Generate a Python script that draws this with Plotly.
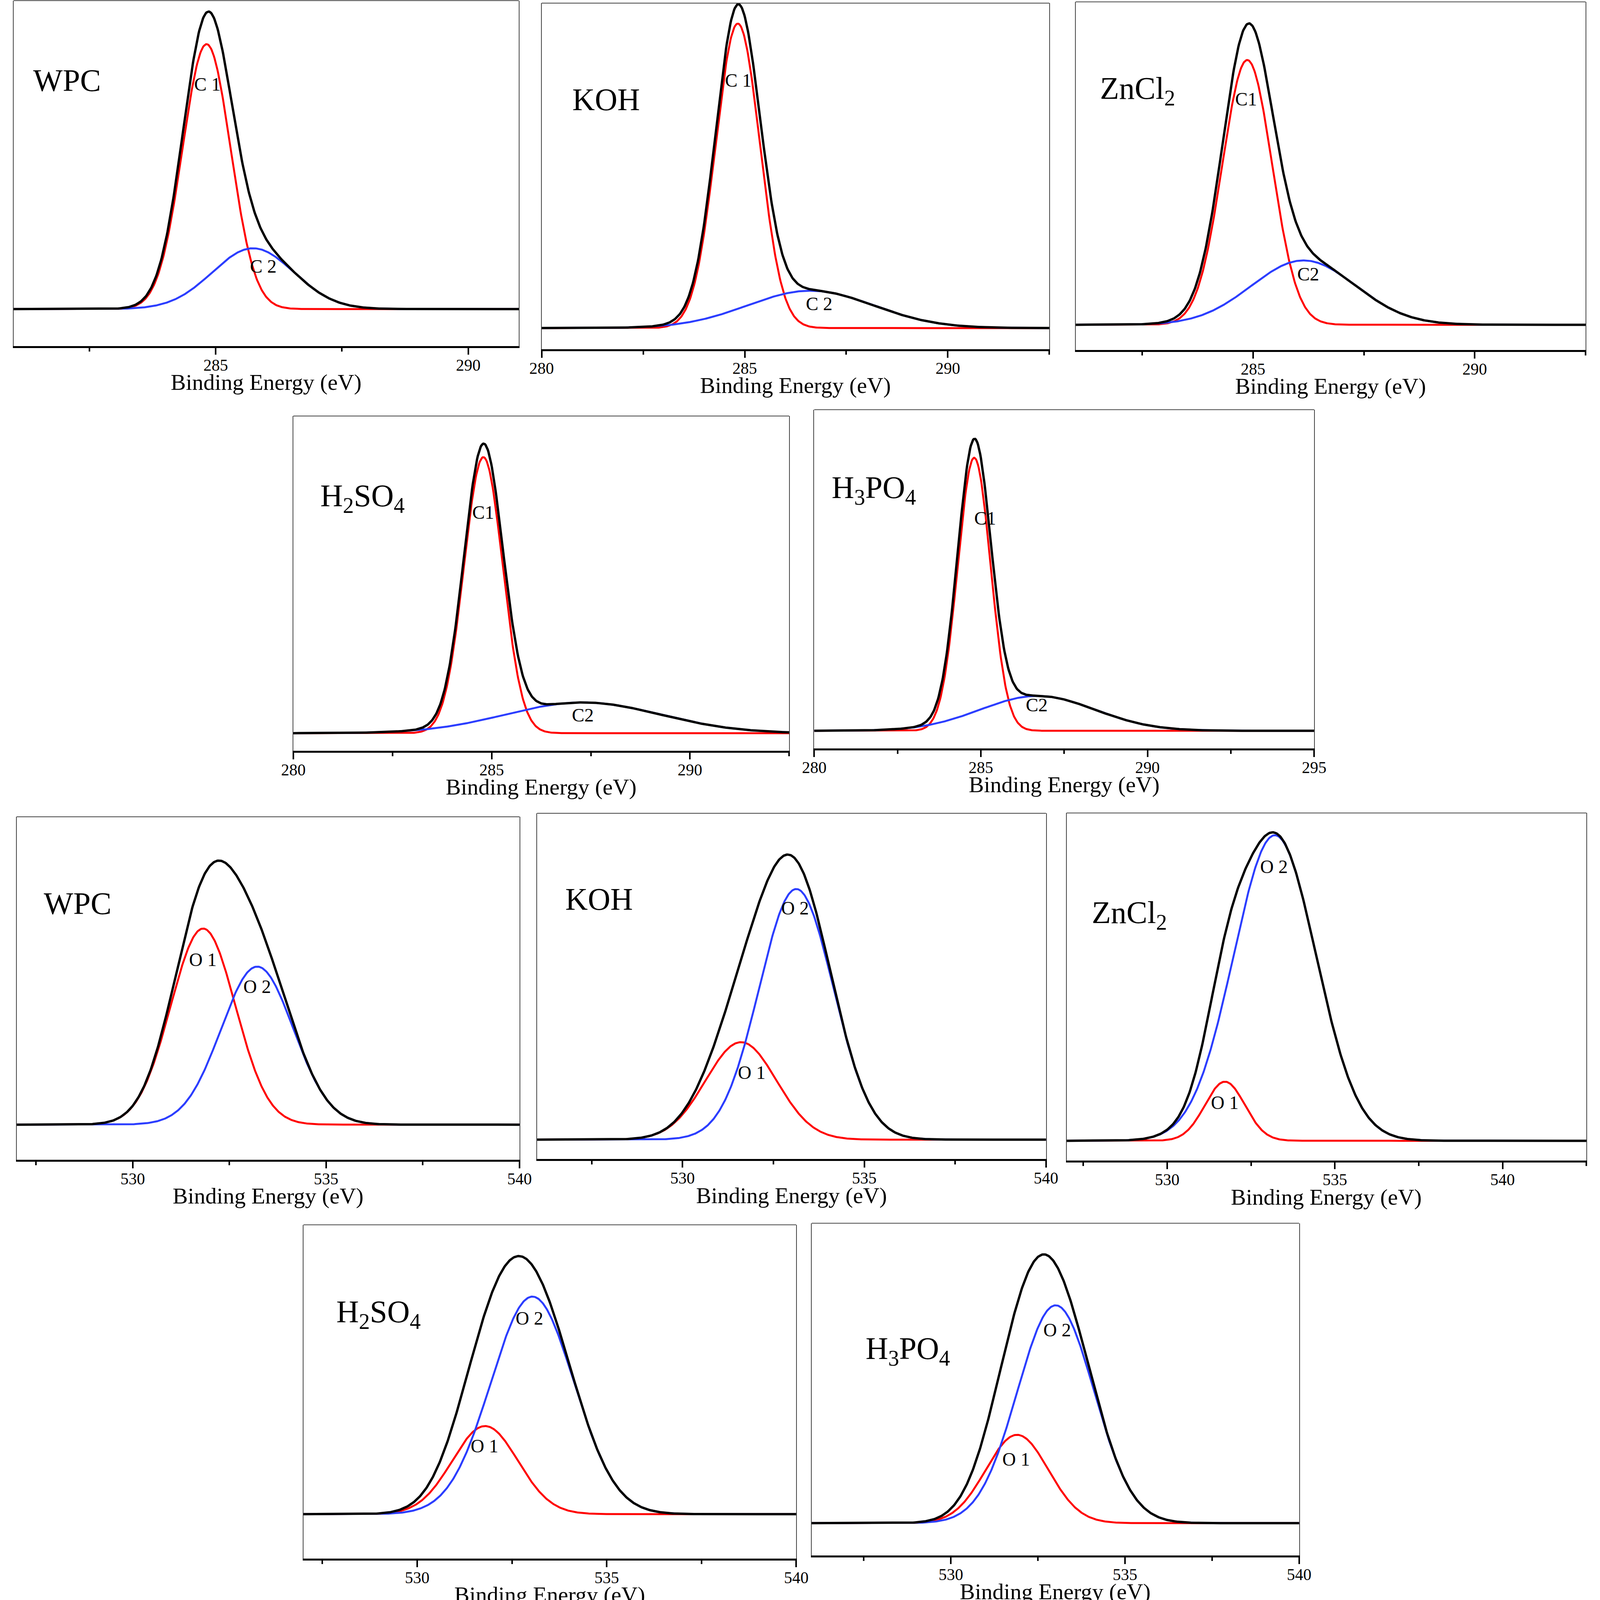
import numpy as np
import plotly.graph_objects as go

FONT = "Liberation Serif"
W, H = 4200, 5054  # size of the reference; panel boxes below are given in this frame

# ---------------- data ----------------
SAMPLES = ["WPC", "KOH", "ZnCl<sub>2</sub>", "H<sub>2</sub>SO<sub>4</sub>", "H<sub>3</sub>PO<sub>4</sub>",
           "WPC", "KOH", "ZnCl<sub>2</sub>", "H<sub>2</sub>SO<sub>4</sub>", "H<sub>3</sub>PO<sub>4</sub>"]
X_MIN = [281.0, 280.0, 281.0, 280.0, 280.0, 527.0, 526.0, 527.0, 527.0, 526.0]
X_MAX = [291.0, 292.5, 292.5, 292.5, 295.0, 540.0, 540.0, 542.5, 540.0, 540.0]
BASE = [0.107, 0.061, 0.072, 0.052, 0.052, 0.102, 0.056, 0.057, 0.133, 0.097]

# first component (C1 / O1) : centre (eV), height, FWHM (eV)
PK1_CENTER = [284.82, 284.83, 284.87, 284.79, 284.80, 531.82, 531.61, 531.72, 531.79, 531.90]
PK1_HEIGHT = [0.767, 0.880, 0.761, 0.825, 0.806, 0.572, 0.282, 0.170, 0.264, 0.266]
PK1_FWHM = [1.12, 1.28, 1.32, 1.15, 1.16, 1.97, 2.30, 1.40, 2.04, 2.11]
# second component (C2 / O2)
PK2_CENTER = [285.74, 286.62, 286.14, 287.30, 286.70, 533.22, 533.13, 533.21, 533.04, 533.01]
PK2_HEIGHT = [0.176, 0.108, 0.185, 0.092, 0.103, 0.461, 0.725, 0.879, 0.652, 0.656]
PK2_FWHM = [1.90, 3.66, 2.77, 4.60, 4.05, 2.20, 2.40, 2.90, 2.58, 2.59]

LBL1_TEXT = ["C 1", "C 1", "C1", "C1", "C1", "O 1", "O 1", "O 1", "O 1", "O 1"]
LBL2_TEXT = ["C 2", "C 2", "C2", "C2", "C2", "O 2", "O 2", "O 2", "O 2", "O 2"]
LBL1_X = [284.84, 284.84, 284.84, 284.79, 285.13, 531.82, 531.90, 531.72, 531.78, 531.88]
LBL1_Y = [0.758, 0.777, 0.721, 0.712, 0.680, 0.584, 0.250, 0.167, 0.337, 0.290]
LBL2_X = [285.94, 286.83, 286.24, 287.30, 286.68, 533.22, 533.10, 533.18, 532.96, 533.05]
LBL2_Y = [0.231, 0.131, 0.218, 0.106, 0.128, 0.505, 0.726, 0.846, 0.720, 0.679]

NAME_X = [0.037, 0.059, 0.046, 0.053, 0.033, 0.052, 0.054, 0.047, 0.065, 0.109]
NAME_Y = [0.769, 0.721, 0.757, 0.768, 0.776, 0.747, 0.751, 0.719, 0.745, 0.629]

# ---------------- layout of the panels (pixel boxes in the reference frame) ----------------
BOX_L = [3, 1411, 2835, 749, 2138, 11, 1399, 2811, 776, 2131]
BOX_R = [1350, 2765, 4195, 2071, 3471, 1352, 2756, 4197, 2090, 3431]
BOX_T = [2, 10, 6, 1314, 1294, 2580, 2569, 2568, 3869, 3864]
BOX_B = [1093, 1103, 1105, 2371, 2364, 3663, 3661, 3666, 4923, 4913]

RED = "#FF0000"
BLUE = "#2B3DFF"


def gauss(x, c, h, fwhm):
    s = fwhm / 2.3548
    return h * np.exp(-0.5 * ((x - c) / s) ** 2)


fig = go.Figure()
annotations = []
shapes = []
layout = dict(margin=dict(l=0, r=0, t=0, b=0, pad=0),
              paper_bgcolor="white", plot_bgcolor="white", showlegend=False,
              autosize=True)

for i in range(10):
    n = i + 1
    xa = "x" if n == 1 else f"x{n}"
    ya = "y" if n == 1 else f"y{n}"
    x = np.linspace(X_MIN[i], X_MAX[i], 700)
    c1 = gauss(x, PK1_CENTER[i], PK1_HEIGHT[i], PK1_FWHM[i])
    c2 = gauss(x, PK2_CENTER[i], PK2_HEIGHT[i], PK2_FWHM[i])
    b = BASE[i]
    fig.add_trace(go.Scatter(x=x, y=b + c1, mode="lines", line=dict(color=RED, width=5),
                             xaxis=xa, yaxis=ya, hoverinfo="skip"))
    fig.add_trace(go.Scatter(x=x, y=b + c2, mode="lines", line=dict(color=BLUE, width=5),
                             xaxis=xa, yaxis=ya, hoverinfo="skip"))
    fig.add_trace(go.Scatter(x=x, y=b + c1 + c2, mode="lines", line=dict(color="black", width=6),
                             xaxis=xa, yaxis=ya, hoverinfo="skip"))

    layout["xaxis" if n == 1 else f"xaxis{n}"] = dict(
        domain=[BOX_L[i] / W, BOX_R[i] / W], range=[X_MIN[i], X_MAX[i]], anchor=ya,
        showline=True, linecolor="black", linewidth=5, mirror=False,
        ticks="outside", ticklen=17, tickwidth=4, tickcolor="black",
        tick0=0, dtick=5, showgrid=False, zeroline=False,
        minor=dict(ticks="outside", ticklen=9, tickwidth=4, tickcolor="black", dtick=2.5, showgrid=False),
        tickfont=dict(family=FONT, size=42, color="black"), ticklabelstandoff=-9,
    )
    layout["yaxis" if n == 1 else f"yaxis{n}"] = dict(
        domain=[1 - BOX_B[i] / H, 1 - BOX_T[i] / H], range=[0, 1], anchor=xa,
        showline=True, linecolor="#444444", linewidth=2, mirror=True,
        showticklabels=False, ticks="", showgrid=False, zeroline=False,
    )
    shapes.append(dict(type="line", xref=f"{xa} domain", yref=f"{ya} domain",
                       x0=0, x1=1, y0=1, y1=1, line=dict(color="#444444", width=2)))
    annotations.append(dict(text="Binding Energy (eV)", xref=f"{xa} domain", yref=f"{ya} domain",
                            x=0.5, y=0, yshift=-93, xanchor="center", yanchor="middle",
                            showarrow=False, font=dict(family=FONT, size=58, color="black")))
    has_sub = "<sub>" in SAMPLES[i]
    annotations.append(dict(text=SAMPLES[i], xref=f"{xa} domain", yref=f"{ya} domain",
                            x=NAME_X[i], y=NAME_Y[i], yshift=-11 if has_sub else 0,
                            xanchor="left", yanchor="middle",
                            showarrow=False, font=dict(family=FONT, size=80, color="black")))
    annotations.append(dict(text=LBL1_TEXT[i], xref=xa, yref=ya, x=LBL1_X[i], y=LBL1_Y[i],
                            xanchor="center", yanchor="middle", showarrow=False,
                            font=dict(family=FONT, size=48, color="black")))
    annotations.append(dict(text=LBL2_TEXT[i], xref=xa, yref=ya, x=LBL2_X[i], y=LBL2_Y[i],
                            xanchor="center", yanchor="middle", showarrow=False,
                            font=dict(family=FONT, size=48, color="black")))

layout["annotations"] = annotations
layout["shapes"] = shapes
fig.update_layout(**layout)

# the browser viewport may be smaller than the reference size: fill whatever viewport there is
POST = """
document.body.style.margin='0px';
document.documentElement.style.overflow='hidden';
document.body.style.overflow='hidden';
var gd=document.getElementById('{plot_id}');
Plotly.Plots.resize(gd);
"""
fig.write_html("out.html", default_width="100vw", default_height="100vh",
               config={"displayModeBar": False, "responsive": True}, post_script=POST)
